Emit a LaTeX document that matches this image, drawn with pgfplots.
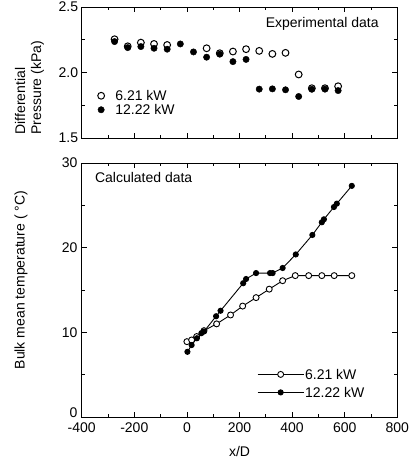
\documentclass[border=0pt]{standalone}
\usepackage{pgfplots}
\pgfplotsset{compat=1.18}
\usepackage{fontspec}
\setmainfont{Liberation Sans}
\begin{document}
\begin{tikzpicture}
\useasboundingbox (-81.7pt,7pt) rectangle (328.3pt,-456pt);
\pgfplotsset{
  myaxis/.style={
    scale only axis, width=315.6pt,
    xmin=-400,xmax=800,
    xtick={-400,-200,...,800}, minor x tick num=1,
    tick align=inside,
    major tick length=5pt, minor tick length=3pt,
    axis line style={line width=1pt},
    every tick/.style={black,line width=0.8pt},
    tick label style={font=\fontsize{14}{16}\selectfont},
    label style={font=\fontsize{14}{16}\selectfont},
    /pgf/number format/assume math mode=true,
    legend cell align=left,
  },
}
\begin{axis}[myaxis, at={(0pt,0pt)}, anchor=north west, height=131pt,
  ymin=1.5, ymax=2.5, ytick={1.5,2,2.5}, minor y tick num=1,
  xticklabels={},
  yticklabel style={/pgf/number format/.cd,fixed,fixed zerofill,precision=1},
  ylabel={Differential\\Pressure (kPa)},
  ylabel style={align=left, at={(axis description cs:-0.165,0)}, anchor=west},
  legend style={at={(axis description cs:0.035,0.385)}, anchor=north west, draw=none, fill=none,
    font=\fontsize{14}{16}\selectfont, row sep=2pt,
    nodes={inner sep=1pt, text height=10pt, text depth=0pt}},
  legend image code/.code={\path (-5pt,0pt) (13pt,0pt); \draw[#1] plot coordinates {(0pt,0pt)};},
]
\addplot[only marks, mark=*, mark size=3.4pt, mark options={fill=white, draw=black, line width=1pt}]
coordinates {(-275,2.254) (-225,2.20) (-175,2.228) (-125,2.218) (-75,2.21) (75,2.185) (125,2.147) (175,2.16) (225,2.178) (275,2.165) (325,2.142) (375,2.15) (425,1.985) (475,1.88) (525,1.88) (575,1.895)};
\addlegendentry{6.21 kW}
\addplot[only marks, mark=*, mark size=3.2pt, mark options={fill=black, draw=black}]
coordinates {(-275,2.236) (-225,2.19) (-175,2.198) (-125,2.185) (-75,2.178) (-25,2.218) (25,2.157) (75,2.117) (125,2.14) (175,2.083) (225,2.10) (275,1.873) (325,1.875) (375,1.868) (425,1.817) (475,1.872) (525,1.873) (575,1.862)};
\addlegendentry{12.22 kW}
\node[anchor=base east, font=\fontsize{14}{16}\selectfont] at (axis description cs:0.952,0.84) {Experimental data};
\end{axis}
\begin{axis}[myaxis, at={(0pt,-156pt)}, anchor=north west, height=254pt,
  ymin=0, ymax=30, ytick={10,20,30}, minor ytick={5,15,25},
  extra y ticks={0}, extra y tick style={yticklabel style={yshift=4pt}},
  xticklabel style={yshift=-5pt, inner sep=1pt},
  yticklabel style={inner sep=1pt, xshift=-3pt},
  xlabel={x/D},
  xlabel style={at={(axis description cs:0.5,-0.135)}, anchor=center},
  ylabel={Bulk mean temperature ( °C)},
  ylabel style={at={(axis description cs:-0.192,0.539)}, anchor=center},
  legend style={at={(axis description cs:0.546,0.2)}, anchor=north west, draw=none, fill=none,
    font=\fontsize{14}{16}\selectfont, row sep=6pt,
    nodes={inner sep=1pt, text height=10pt, text depth=0pt}},
  legend image code/.code={\draw[mark repeat=2,mark phase=2,#1] plot coordinates {(0pt,0pt)(23pt,0pt)(46pt,0pt)};},
]
\addplot[black, line width=0.9pt, mark=*, mark size=3pt, mark options={fill=white, draw=black, line width=0.9pt}]
coordinates {(0,8.9) (18,9.1) (37,9.5) (65,10.2) (113,11.0) (166,12.05) (212,13.1) (263,14.1) (313,15.1) (364,16.1) (412,16.7) (463,16.7) (513,16.7) (560,16.7) (627,16.7)};
\addlegendentry{6.21 kW}
\addplot[black, line width=0.9pt, mark=*, mark size=2.6pt, mark options={fill=black, draw=black}]
coordinates {(2,7.7) (18,8.5) (38,9.3) (55,9.9) (65,10.1) (111,11.9) (128,12.55) (214,15.8) (225,16.3) (263,17.0) (316,17.0) (326,17.0) (364,17.6) (414,19.2) (477,21.5) (513,23.0) (521,23.35) (559,24.8) (570,25.2) (627,27.3)};
\addlegendentry{12.22 kW}
\node[anchor=west, font=\fontsize{14}{16}\selectfont] at (axis description cs:0.031,0.943) {Calculated data};
\end{axis}
\end{tikzpicture}
\end{document}
